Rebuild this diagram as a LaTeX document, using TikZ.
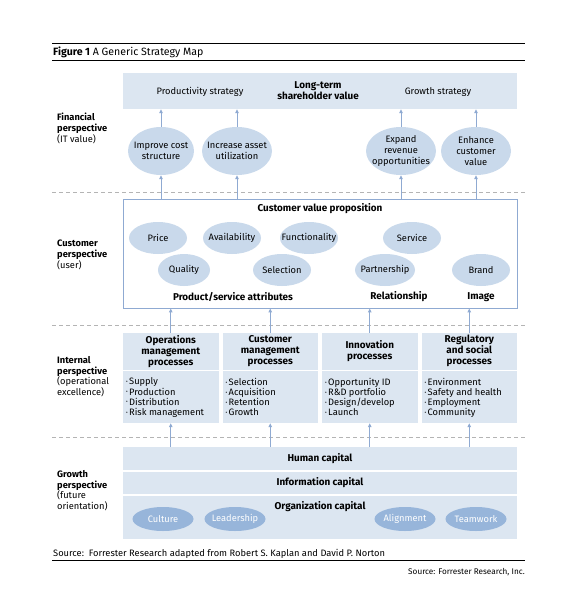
\documentclass[tikz,border=0pt]{standalone}
\usepackage{fontspec}
\setmainfont{Fira Sans}
\usetikzlibrary{positioning,arrows.meta,shapes.geometric}
\definecolor{bandcolor}{HTML}{DCE6F1}
\definecolor{ovalcolor}{HTML}{C9D9EB}
\definecolor{orgcolor}{HTML}{97B5DA}
\definecolor{arrowcolor}{HTML}{8FAAD2}
\definecolor{dashcolor}{HTML}{B4B4B4}
\newcommand{\mapfont}{\fontsize{9.3}{10.8}\selectfont}
\newcommand{\mapbold}{\fontsize{9.9}{11}\selectfont\bfseries}
\newcommand{\listfont}{\fontsize{9.3}{10.1}\selectfont}
\newcommand{\itm}{\raisebox{0.25ex}{\scalebox{0.55}{\textbullet}}\,}
\tikzset{
    band/.style={rectangle, fill=bandcolor, inner sep=0pt},
    oval/.style={ellipse, fill=ovalcolor, inner xsep=-12pt, inner ysep=-6pt, align=center, font=\mapfont},
    fin oval/.style={oval, minimum width=70pt, minimum height=48pt},
    cust oval/.style={oval, minimum width=58pt, minimum height=32pt},
    org oval/.style={oval, fill=orgcolor, text=white, minimum width=61pt, minimum height=24pt},
    plain text/.style={font=\mapfont, align=center, inner sep=0pt},
    bold text/.style={font=\mapbold, align=center, inner sep=0pt},
    persp label/.style={anchor=north west, align=left, inner sep=0pt, font=\mapfont},
    proc head/.style={band, minimum width=95.5pt, minimum height=36.5pt, align=center, font=\mapbold},
    proc body/.style={band, minimum width=95.5pt, minimum height=52.5pt},
    up arrow/.style={-{Triangle[width=3.5pt,length=4pt]}, arrowcolor, line width=1pt},
    divider/.style={dashcolor, dash pattern=on 4pt off 3pt, line width=0.6pt},
    rule/.style={black, line width=0.8pt}
}

\begin{document}
\begin{tikzpicture}[x=1pt, y=-1pt]
    \useasboundingbox (0,0) rectangle (585,610);

    % Title and rules
    \draw[rule] (52,43.5) -- (525,43.5);
    \node[anchor=base west, inner sep=0pt, font=\fontsize{10.6}{12}\selectfont] (title) at (53,55.5) {\textbf{Figure 1} A Generic Strategy Map};
    \draw[rule] (52,60) -- (525,60);

    % Financial perspective
    \node[band, minimum width=394pt, minimum height=36pt] (shv) at (320,91) {};
    \node[plain text] (prod) at (200,92) {Productivity strategy};
    \node[bold text] (lts) at (318,91) {Long-term\\shareholder value};
    \node[plain text] (grow) at (438,92) {Growth strategy};

    \node[fin oval, minimum width=66pt] (cost) at (161,151) {Improve cost\\structure};
    \node[fin oval] (asset) at (237,151) {Increase asset\\utilization};
    \node[fin oval] (revenue) at (401,151) {Expand\\revenue\\opportunities};
    \node[fin oval] (cvalue) at (476,151) {Enhance\\customer\\value};

    \foreach \e in {cost,asset,revenue,cvalue} {
        \draw[up arrow] (\e.north) -- (\e |- shv.south);
    }

    \node[persp label] (finlab) at (57,113) {\textbf{Financial}\\\textbf{perspective}\\(IT value)};

    \draw[divider] (52,192) -- (525,192);

    % Customer perspective
    \node[draw=arrowcolor, line width=0.8pt, fill=white, minimum width=394pt, minimum height=109pt, inner sep=0pt] (cust) at (320,253.5) {};
    \node[bold text] (cvp) at (320,209) {Customer value proposition};

    \foreach \e in {cost,asset,revenue,cvalue} {
        \draw[up arrow] (cust.north -| \e) -- (\e.south);
    }

    \node[cust oval] (price) at (158,238) {Price};
    \node[cust oval] (avail) at (232,238) {Availability};
    \node[cust oval] (func) at (309,238) {Functionality};
    \node[cust oval] (service) at (412,238) {Service};
    \node[cust oval, minimum width=52pt] (quality) at (184,270) {Quality};
    \node[cust oval] (select) at (282,270) {Selection};
    \node[cust oval, minimum width=60pt] (partner) at (385,270) {Partnership};
    \node[cust oval] (brand) at (481,270) {Brand};

    \node[bold text] (attr) at (233,297) {Product/service attributes};
    \node[bold text] (relat) at (399,297) {Relationship};
    \node[bold text] (image) at (481,297) {Image};

    \node[persp label] (custlab) at (57,240) {\textbf{Customer}\\\textbf{perspective}\\(user)};

    \draw[divider] (52,325) -- (525,325);

    % Internal perspective
    \foreach \i/\x/\head/\items in {
        1/170.75/{Operations\\management\\processes}/{\itm Supply\\\itm Production\\\itm Distribution\\\itm Risk management},
        2/270.25/{Customer\\management\\processes}/{\itm Selection\\\itm Acquisition\\\itm Retention\\\itm Growth},
        3/369.75/{Innovation\\processes}/{\itm Opportunity ID\\\itm R\&D portfolio\\\itm Design/develop\\\itm Launch},
        4/469.25/{Regulatory\\and social\\processes}/{\itm Environment\\\itm Safety and health\\\itm Employment\\\itm Community}} {
        \node[proc head] (H-\i) at (\x,351.25) {\head};
        \node[proc body] (B-\i) at (\x,396.75) {};
        \node[anchor=north west, align=left, inner sep=0pt, font=\listfont] (L-\i) at ([xshift=3pt,yshift=-7.5pt]B-\i.north west) {\items};
        \draw[up arrow] (H-\i.north) -- (H-\i |- cust.south);
    }

    \node[persp label] (intlab) at (57,356) {\textbf{Internal}\\\textbf{perspective}\\(operational\\excellence)};

    \draw[divider] (52,437) -- (525,437);

    % Learning and growth perspective
    \node[band, minimum width=394pt, minimum height=23pt] (human) at (320,458.5) {};
    \node[band, minimum width=394pt, minimum height=22pt] (info) at (320,483) {};
    \node[band, minimum width=394pt, minimum height=43pt] (org) at (320,517.5) {};
    \node[bold text] (humtxt) at (human) {Human capital};
    \node[bold text] (inftxt) at (info) {Information capital};
    \node[bold text] (orgtxt) at (320,507) {Organization capital};

    \foreach \i in {1,2,3,4} {
        \draw[up arrow] (B-\i |- human.north) -- (B-\i.south);
    }

    \node[org oval] (culture) at (163,519) {Culture};
    \node[org oval] (leader) at (235,519) {Leadership};
    \node[org oval] (align) at (405,519) {Alignment};
    \node[org oval] (team) at (476,519) {Teamwork};

    \node[persp label] (growlab) at (57,470) {\textbf{Growth}\\\textbf{perspective}\\(future\\orientation)};

    % Sources
    \node[anchor=base west, inner sep=0pt, font=\mapfont] (src) at (53,556) {Source:\ \ Forrester Research adapted from Robert S. Kaplan and David P. Norton};
    \draw[black, line width=0.6pt] (52,560) -- (525,560);
    \node[anchor=base east, inner sep=0pt, font=\fontsize{8.2}{9}\selectfont] (src2) at (525,574.5) {Source: Forrester Research, Inc.};
\end{tikzpicture}
\end{document}
